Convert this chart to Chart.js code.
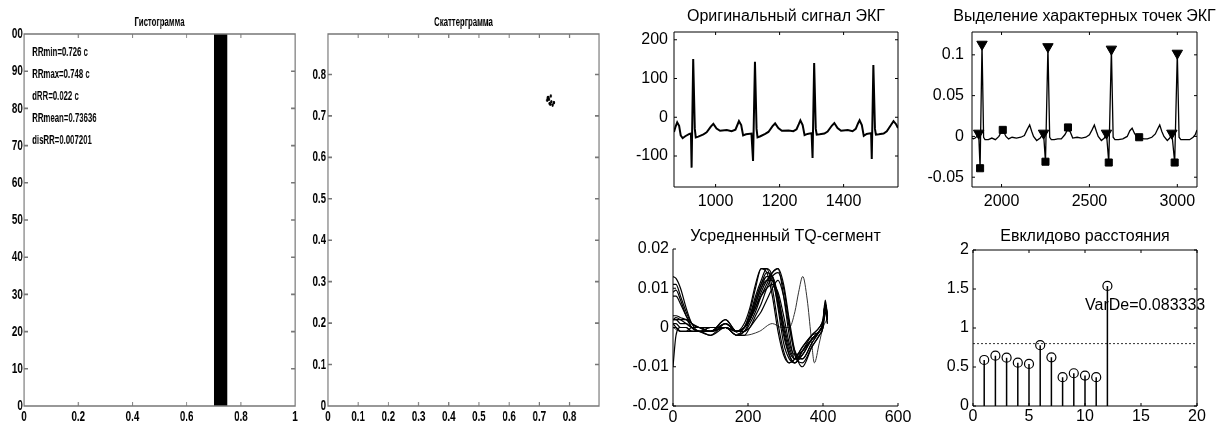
<!DOCTYPE html>
<html>
<head>
<meta charset="utf-8">
<script src="https://cdn.jsdelivr.net/npm/chart.js"></script>
<style>
  html, body { margin: 0; padding: 0; background: #fff; }
  body { width: 1221px; height: 427px; position: relative; overflow: hidden; }
  canvas { position: absolute; }
  .squeeze { transform-origin: 0 0; }
</style>
</head>
<body>
<canvas id="hist" class="squeeze" style="left:0;top:0"></canvas>
<canvas id="scat" class="squeeze" style="left:300px;top:0"></canvas>
<canvas id="ecg" width="300" height="215" style="left:620px;top:0"></canvas>
<canvas id="pts" width="301" height="215" style="left:920px;top:0"></canvas>
<canvas id="tq" width="300" height="212" style="left:620px;top:215px"></canvas>
<canvas id="eucl" width="301" height="212" style="left:920px;top:215px"></canvas>
<script>
// RR intervals, s
var rrIntervals = [0.736, 0.728, 0.744, 0.726, 0.738, 0.748, 0.732, 0.740, 0.734, 0.730, 0.744];
var histEdges = [0.70, 0.75];
var histCounts = [100];
var rrNotes = ['RRmin=0.726 c', 'RRmax=0.748 c', 'dRR=0.022 c', 'RRmean=0.73636', 'disRR=0.007201'];
var histTicksX = [0, 0.2, 0.4, 0.6, 0.8, 1];
var histTicksY = [0, 10, 20, 30, 40, 50, 60, 70, 80, 90, 100];
var scatTicks = [0, 0.1, 0.2, 0.3, 0.4, 0.5, 0.6, 0.7, 0.8];

// original ECG, [sample, value]
var ecgSignal = [
  [870,-38],[875,-24],[880,-13],[886,-22],[891,-47],[897,-54],[905,-49],[918,-43],[923,-42],[925,-130],[930,150],[935,-30],[938,-52],
  [946,-50],[962,-44],[972,-39],[985,-24],[993,-17],[1003,-29],[1014,-35],[1035,-33],[1050,-36],[1062,-32],[1068,-20],[1073,-10],
  [1080,-20],[1086,-47],[1095,-44],[1112,-42],[1117,-113],[1123,143],[1128,-30],[1131,-52],[1140,-49],[1155,-43],[1165,-38],
  [1178,-23],[1186,-16],[1196,-28],[1207,-35],[1228,-34],[1243,-36],[1253,-31],[1260,-18],[1265,-8],[1272,-20],[1278,-46],
  [1287,-43],[1300,-41],[1303,-105],[1308,140],[1313,-30],[1316,-45],[1325,-44],[1340,-42],[1350,-37],[1363,-22],[1371,-15],
  [1381,-28],[1392,-35],[1413,-33],[1428,-36],[1438,-30],[1445,-16],[1450,-8],[1457,-20],[1463,-48],[1472,-43],[1486,-41],
  [1488,-108],[1493,135],[1498,-30],[1501,-45],[1510,-44],[1525,-42],[1535,-36],[1548,-20],[1556,-10],[1564,-18],[1570,-28]
];
var ecgTicksX = [1000, 1200, 1400];
var ecgTicksY = [-100, 0, 100, 200];

// filtered ECG with detected points
var ptsSignal = [
  [1832,-0.002],[1840,-0.003],[1850,-0.002],[1860,0.000],[1870,0.004],[1878,-0.039],[1889,0.113],[1898,-0.001],[1906,-0.004],
  [1925,-0.004],[1945,-0.002],[1965,-0.004],[1985,0.000],[2000,0.006],[2012,0.006],[2025,0.000],[2040,-0.003],[2060,-0.001],
  [2085,-0.002],[2110,-0.001],[2130,0.001],[2145,0.008],[2160,0.014],[2172,0.006],[2182,0.000],[2200,-0.005],[2220,-0.002],
  [2239,0.004],[2250,-0.031],[2264,0.110],[2274,-0.001],[2283,-0.004],[2300,-0.004],[2320,-0.003],[2340,-0.003],[2360,0.002],
  [2375,0.008],[2390,0.006],[2405,-0.002],[2430,-0.001],[2455,-0.002],[2480,-0.001],[2500,0.002],[2515,0.008],[2528,0.014],
  [2540,0.006],[2550,0.000],[2568,-0.005],[2585,-0.002],[2597,0.004],[2610,-0.032],[2625,0.107],[2635,-0.001],[2645,-0.004],
  [2665,-0.004],[2690,-0.003],[2715,0.000],[2730,0.007],[2743,0.010],[2756,0.004],[2770,-0.001],[2790,-0.002],[2810,-0.003],
  [2830,-0.003],[2855,-0.001],[2875,0.003],[2888,0.009],[2900,0.014],[2912,0.006],[2924,0.000],[2943,-0.005],[2957,-0.002],
  [2969,0.004],[2985,-0.032],[3000,0.102],[3010,-0.001],[3020,-0.004],[3045,-0.004],[3070,-0.004],[3090,-0.001],[3102,0.002],[3112,0.008]
];
var ptsRPeak = [[1889,0.113],[2264,0.110],[2625,0.107],[3000,0.102]];
var ptsOnset = [[1870,0.004],[2239,0.004],[2597,0.004],[2969,0.004]];
var ptsQ = [[1878,-0.039],[2250,-0.031],[2610,-0.032],[2985,-0.032]];
var ptsT = [[2007,0.008],[2378,0.011],[2783,-0.001]];
var ptsTicksX = [2000, 2500, 3000];
var ptsTicksY = [-0.05, 0, 0.05, 0.1];

// TQ segments
var tqX = [0, 8, 20, 35, 50, 70, 100, 140, 170, 190, 205, 220, 235, 250, 265, 280, 295, 310, 325, 345, 370, 390, 400, 406, 412];
var tqCurves = [
  [.013,.0125,.010,.005,.001,-.001,-.001,.000,-.001,.000,.004,.010,.015,.014,.008,-.001,-.007,-.009,-.008,-.005,-.002,-.001,.001,.006,.002],
  [.011,.011,.008,.004,.001,.000,-.001,.001,-.001,.001,.005,.011,.015,.015,.010,.001,-.006,-.009,-.008,-.005,-.002,.000,.002,.006,.003],
  [.009,.0095,.007,.003,.000,-.001,.000,.000,-.002,.000,.003,.008,.012,.015,.013,.005,-.004,-.008,-.009,-.006,-.003,-.001,.001,.005,.002],
  [.003,.003,.0025,.002,.001,.000,-.001,.002,-.001,.000,.003,.007,.011,.013,.012,.006,-.002,-.007,-.009,-.006,-.002,.000,.002,.007,.003],
  [.002,.002,.002,.002,.000,-.001,-.001,.000,-.001,.000,.002,.006,.010,.013,.013,.008,.000,-.006,-.008,-.006,-.003,-.001,.001,.006,.002],
  [.002,.0025,.002,.001,.000,-.001,-.002,.001,-.001,-.001,.001,.004,.008,.011,.014,.015,.008,-.002,-.008,-.008,-.004,-.001,.001,.005,.002],
  [.001,.001,.000,.000,-.001,-.001,-.001,.000,-.002,-.001,.000,.003,.006,.010,.013,.014,.010,.001,-.007,-.009,-.005,-.002,.000,.004,.001],
  [.000,.000,-.001,-.001,.000,.000,-.001,.001,-.001,.000,.002,.005,.009,.012,.014,.015,.011,.002,-.006,-.010,-.005,-.002,.000,.005,.002],
  [-.010,-.002,.000,.000,-.001,-.001,.000,.000,-.001,.000,.002,.006,.010,.012,.012,.008,.001,-.005,-.008,-.007,-.003,-.001,.001,.006,.003],
  [.002,.002,.001,.001,.000,.000,-.001,.002,-.001,.000,.002,.005,.008,.010,.011,.009,.003,-.004,-.007,-.006,-.003,-.001,.001,.005,.002],
  [.008,.008,.006,.003,.001,.000,.000,.000,-.002,-.001,.002,.007,.011,.014,.013,.007,-.001,-.007,-.009,-.007,-.003,-.001,.001,.006,.002],
  [.001,.000,-.001,-.001,-.001,-.001,-.002,.000,-.002,-.002,.000,.002,.004,.007,.010,.012,.008,.000,-.006,-.008,-.004,-.001,.001,.004,.001]
];
var tqOddX = [0, 20, 50, 100, 140, 190, 230, 265, 290, 310, 325, 335, 346, 358, 368, 377, 390, 400, 410];
var tqOddY = [.000, -.001, -.001, -.001, .000, -.002, -.001, .001, .000, .000, .004, .009, .013, .007, -.002, -.009, -.004, .000, .002];
var tqTicksX = [0, 200, 400, 600];
var tqTicksY = [-0.02, -0.01, 0, 0.01, 0.02];

// euclidean distances
var euclIdx = [1, 2, 3, 4, 5, 6, 7, 8, 9, 10, 11, 12];
var euclDist = [0.59, 0.645, 0.62, 0.556, 0.54, 0.78, 0.624, 0.37, 0.42, 0.39, 0.37, 1.54];
var euclLimit = 0.8;
var varDe = 'VarDe=0.083333';
var euclTicksX = [0, 5, 10, 15, 20];
var euclTicksY = [0, 0.5, 1, 1.5, 2];

Chart.defaults.animation = false;
Chart.defaults.color = '#000';
Chart.defaults.font.family = "'Liberation Sans', Arial, sans-serif";
Chart.defaults.plugins.legend.display = false;
Chart.defaults.plugins.tooltip.enabled = false;

var sans = "'Liberation Sans', Arial, sans-serif";
var smallFont = { family: sans, size: 15, weight: 'bold' };
var bigFont = { family: sans, size: 16 };

// left pair of plots is drawn wide and squeezed horizontally, like the source image
var squeeze = 0.65;
function sq(px) { return Math.round(px / squeeze); }

function xy(pairs) {
  return pairs.map(function (p) { return { x: p[0], y: p[1] }; });
}

function axis(min, max, ticks, size, pad, font, label) {
  return {
    type: 'linear', min: min, max: max,
    grid: { display: false, drawTicks: false },
    border: { display: false },
    ticks: {
      padding: pad, font: font, color: '#000', maxRotation: 0, autoSkip: false,
      callback: label || function (v) { return '' + v; }
    },
    afterBuildTicks: function (s) { s.ticks = ticks.map(function (v) { return { value: v }; }); },
    afterFit: function (s) { if (s.isHorizontal()) s.height = size; else s.width = size; }
  };
}

// matlab-like frame, inward ticks, title and text notes
function matlab(o) {
  return {
    id: 'matlab',
    afterDatasetsDraw: function (chart) {
      var ctx = chart.ctx, a = chart.chartArea, sx = chart.scales.x, sy = chart.scales.y;
      var tx = o.tick, ty = o.tickY || o.tick;
      ctx.save();
      ctx.strokeStyle = o.color;
      ctx.lineWidth = o.width;
      ctx.beginPath();
      if (o.box) {
        ctx.rect(a.left, a.top, a.right - a.left, a.bottom - a.top);
      } else {
        ctx.moveTo(a.left, a.top); ctx.lineTo(a.left, a.bottom); ctx.lineTo(a.right, a.bottom);
      }
      sx.ticks.forEach(function (k) {
        var px = sx.getPixelForValue(k.value);
        ctx.moveTo(px, a.bottom); ctx.lineTo(px, a.bottom - tx);
        if (o.box) { ctx.moveTo(px, a.top); ctx.lineTo(px, a.top + tx); }
      });
      sy.ticks.forEach(function (k) {
        var py = sy.getPixelForValue(k.value);
        ctx.moveTo(a.left, py); ctx.lineTo(a.left + ty, py);
        if (o.box) { ctx.moveTo(a.right, py); ctx.lineTo(a.right - ty, py); }
      });
      ctx.stroke();

      ctx.fillStyle = '#000';
      ctx.textBaseline = 'middle';
      ctx.textAlign = 'center';
      ctx.font = o.titleFont;
      ctx.fillText(o.title, (a.left + a.right) / 2, a.top - o.titleGap);
      ctx.textAlign = 'left';
      (o.notes || []).forEach(function (n) {
        ctx.font = n.font;
        ctx.fillText(n.text, sx.getPixelForValue(n.x), sy.getPixelForValue(n.y));
      });
      ctx.restore();
    }
  };
}

// ---------- histogram
var hist = document.getElementById('hist');
hist.width = sq(310); hist.height = 427;
hist.style.transform = 'scaleX(' + squeeze + ')';
var histPoints = [];
histCounts.forEach(function (c, i) {
  histPoints.push({ x: histEdges[i], y: 0 }, { x: histEdges[i], y: c }, { x: histEdges[i + 1], y: c }, { x: histEdges[i + 1], y: 0 });
});
var noteFont = 'bold 12px ' + sans;
var leftTitle = 'bold 12px ' + sans;
new Chart(hist, {
  type: 'scatter',
  data: { datasets: [{ data: histPoints, showLine: true, fill: 'origin', backgroundColor: '#000', borderColor: '#000', borderWidth: 0, pointRadius: 0 }] },
  options: {
    responsive: false,
    layout: { padding: { top: 34, right: sq(15), left: 0, bottom: 0 } },
    scales: {
      x: axis(0, 1, histTicksX, 21, 2, smallFont),
      y: axis(0, 100, histTicksY, sq(24), 2, smallFont, function (v) { return v === 100 ? '00' : '' + v; })
    }
  },
  plugins: [matlab({
    box: true, color: '#777', width: 1.6, tick: 4, tickY: sq(4),
    title: 'Гистограмма', titleFont: leftTitle, titleGap: 11,
    notes: rrNotes.map(function (s, i) { return { text: s, x: 0.03, y: 95 - 5.9 * i, font: noteFont }; })
  })]
});

// ---------- scattergram
var scat = document.getElementById('scat');
scat.width = sq(310); scat.height = 427;
scat.style.transform = 'scaleX(' + squeeze + ')';
var scatPoints = [];
for (var i = 0; i < rrIntervals.length - 1; i++) scatPoints.push({ x: rrIntervals[i], y: rrIntervals[i + 1] });
var rrLim = Math.max.apply(null, rrIntervals) * 1.2;
new Chart(scat, {
  type: 'scatter',
  data: { datasets: [{ data: scatPoints, pointRadius: 1.8, backgroundColor: '#000', borderWidth: 0 }] },
  options: {
    responsive: false,
    layout: { padding: { top: 34, right: sq(11), left: 0, bottom: 0 } },
    scales: {
      x: axis(0, rrLim, scatTicks, 21, 2, smallFont),
      y: axis(0, rrLim, scatTicks, sq(28), 3, smallFont)
    }
  },
  plugins: [matlab({ box: true, color: '#777', width: 1.6, tick: 4, tickY: sq(4), title: 'Скаттерграмма', titleFont: leftTitle, titleGap: 11 })]
});

// ---------- original ECG
new Chart(document.getElementById('ecg'), {
  type: 'scatter',
  data: { datasets: [{ data: xy(ecgSignal), showLine: true, borderColor: '#000', borderWidth: 2, pointRadius: 0 }] },
  options: {
    responsive: false,
    layout: { padding: { top: 32, right: 22, left: 0, bottom: 0 } },
    scales: {
      x: axis(870, 1570, ecgTicksX, 28, 5, bigFont),
      y: axis(-180, 220, ecgTicksY, 54, 6, bigFont)
    }
  },
  plugins: [matlab({ box: true, color: '#000', width: 1, tick: 3, title: 'Оригинальный сигнал ЭКГ', titleFont: '16px ' + sans, titleGap: 15 })]
});

// ---------- characteristic points
new Chart(document.getElementById('pts'), {
  type: 'scatter',
  data: {
    datasets: [
      { data: xy(ptsSignal), showLine: true, borderColor: '#000', borderWidth: 1.3, pointRadius: 0 },
      { data: xy(ptsRPeak), pointStyle: 'triangle', rotation: 180, pointRadius: 6, backgroundColor: '#000', borderColor: '#000' },
      { data: xy(ptsOnset), pointStyle: 'triangle', rotation: 180, pointRadius: 6, backgroundColor: '#000', borderColor: '#000' },
      { data: xy(ptsQ), pointStyle: 'rect', pointRadius: 5, backgroundColor: '#000', borderColor: '#000' },
      { data: xy(ptsT), pointStyle: 'rect', pointRadius: 5, backgroundColor: '#000', borderColor: '#000' }
    ]
  },
  options: {
    responsive: false,
    layout: { padding: { top: 32, right: 24, left: 0, bottom: 0 } },
    scales: {
      x: axis(1832, 3112, ptsTicksX, 28, 5, bigFont),
      y: axis(-0.062, 0.128, ptsTicksY, 52, 8, bigFont)
    }
  },
  plugins: [matlab({ box: true, color: '#000', width: 1, tick: 3, title: 'Выделение характерных точек ЭКГ', titleFont: '16px ' + sans, titleGap: 15 })]
});

// ---------- TQ segments
var tqSets = tqCurves.map(function (c) {
  return { data: c.map(function (v, k) { return { x: tqX[k], y: v }; }), showLine: true, cubicInterpolationMode: 'monotone', borderColor: '#000', borderWidth: 1.2, pointRadius: 0 };
});
tqSets.push({ data: tqOddY.map(function (v, k) { return { x: tqOddX[k], y: v }; }), showLine: true, cubicInterpolationMode: 'monotone', borderColor: '#333', borderWidth: 1, pointRadius: 0 });
new Chart(document.getElementById('tq'), {
  type: 'scatter',
  data: { datasets: tqSets },
  options: {
    responsive: false,
    layout: { padding: { top: 34, right: 22, left: 0, bottom: 0 } },
    scales: {
      x: axis(0, 600, tqTicksX, 21, 2, bigFont),
      y: axis(-0.02, 0.02, tqTicksY, 53, 4, bigFont)
    }
  },
  plugins: [matlab({ box: false, color: '#000', width: 1, tick: 3, title: 'Усредненный TQ-сегмент', titleFont: '16px ' + sans, titleGap: 12 })]
});

// ---------- euclidean distances
var stems = [];
euclIdx.forEach(function (n, i) { stems.push({ x: n, y: 0 }, { x: n, y: euclDist[i] }, { x: n, y: null }); });
new Chart(document.getElementById('eucl'), {
  type: 'scatter',
  data: {
    datasets: [
      { data: stems, showLine: true, spanGaps: false, borderColor: '#000', borderWidth: 1.5, pointRadius: 0 },
      { data: euclIdx.map(function (n, i) { return { x: n, y: euclDist[i] }; }), pointRadius: 4.5, borderWidth: 1.2, borderColor: '#000', backgroundColor: 'rgba(0,0,0,0)' },
      { data: [{ x: 0, y: euclLimit }, { x: 20, y: euclLimit }], showLine: true, borderColor: '#333', borderWidth: 1, borderDash: [2, 2], pointRadius: 0 }
    ]
  },
  options: {
    responsive: false,
    layout: { padding: { top: 35, right: 24, left: 0, bottom: 0 } },
    scales: {
      x: axis(0, 20, euclTicksX, 21, 1, bigFont),
      y: axis(0, 2, euclTicksY, 53, 4, bigFont)
    }
  },
  plugins: [matlab({
    box: true, color: '#000', width: 1, tick: 3, title: 'Евклидово расстояния', titleFont: '16px ' + sans, titleGap: 13,
    notes: [{ text: varDe, x: 10, y: 1.29, font: '16px ' + sans }]
  })]
});
</script>
</body>
</html>
